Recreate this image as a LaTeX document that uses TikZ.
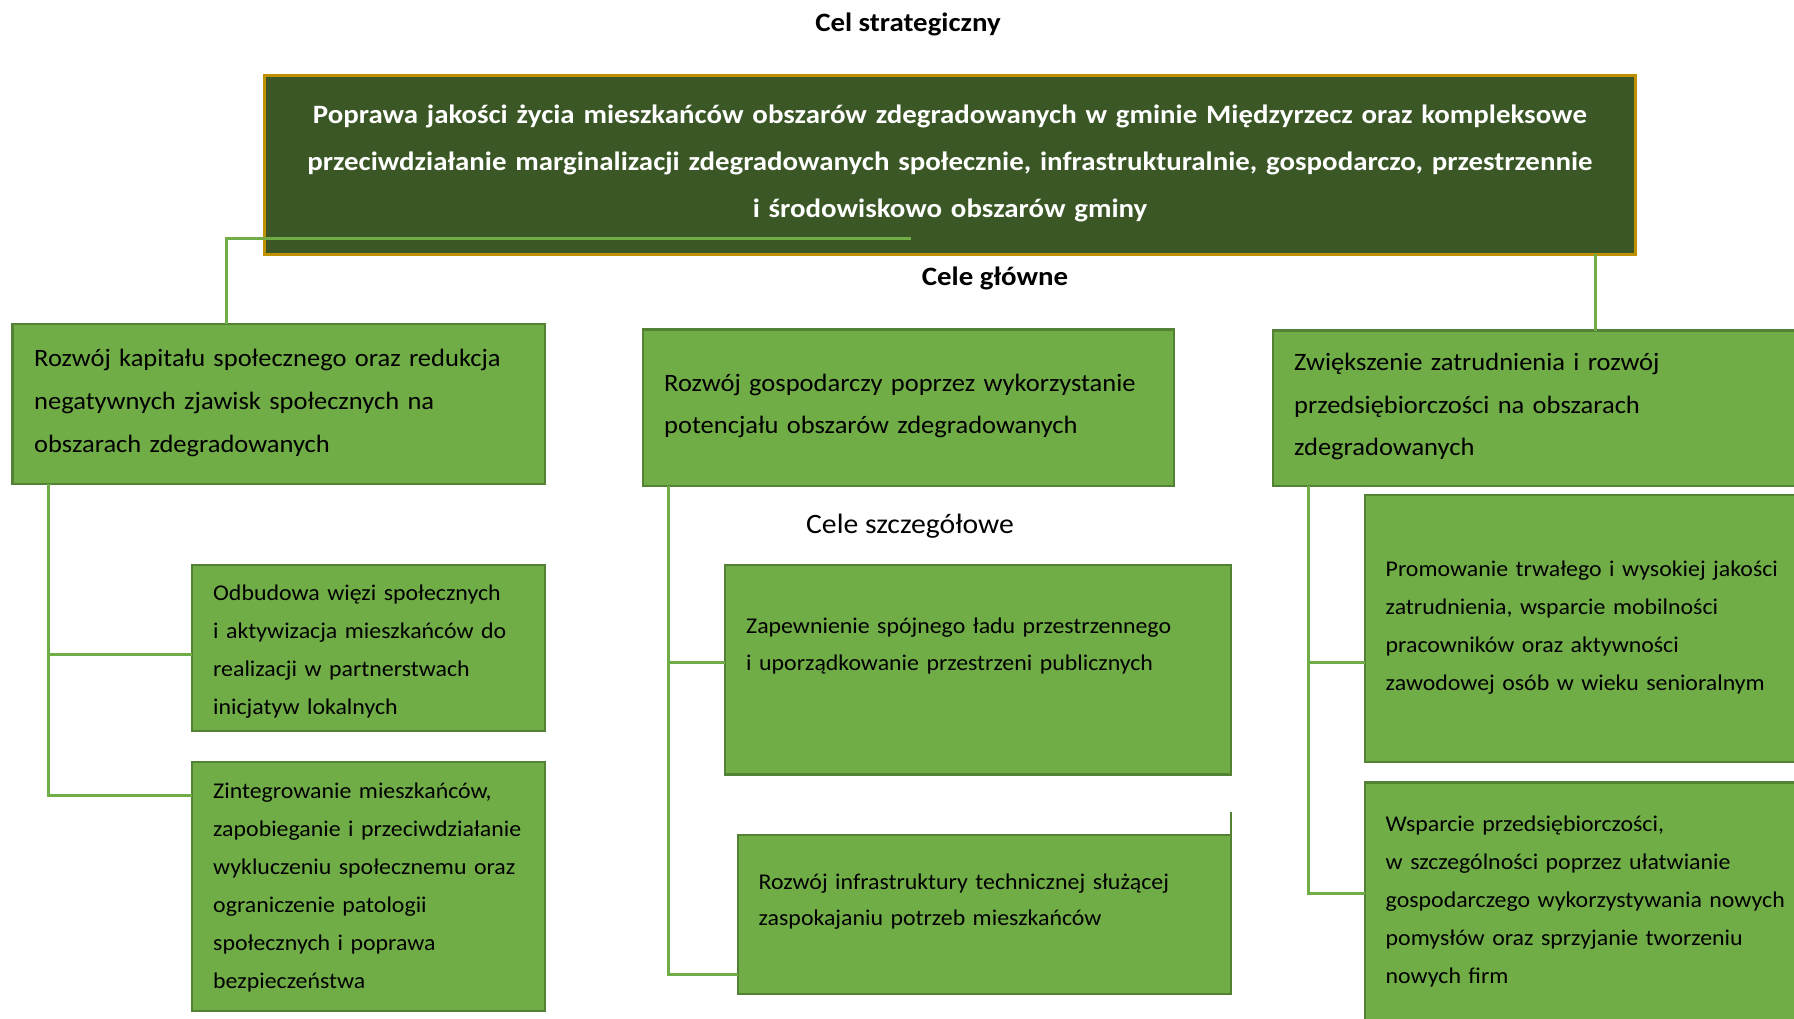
\documentclass[tikz,border=0pt]{standalone}
\usepackage{fontspec}
\setmainfont{Carlito}[FakeStretch=1.06]
\newfontfamily\hfont[FakeStretch=1.09]{Carlito}
\definecolor{lg}{HTML}{70AD47}
\definecolor{lgb}{HTML}{548235}
\definecolor{dg}{HTML}{3A5725}
\definecolor{goldb}{HTML}{BF9000}
\definecolor{connc}{HTML}{70AD47}
\begin{document}
\begin{tikzpicture}[x=1pt,y=-1pt,
  box/.style={draw=lgb, fill=lg, line width=2.5pt, inner sep=0pt, outer sep=0pt, anchor=north west},
  topbox/.style={draw=goldb, fill=dg, line width=3pt, inner sep=0pt, outer sep=0pt, anchor=north west},
  conn/.style={draw=connc, line width=3pt},
  ltxt/.style={anchor=base west, inner sep=0pt, align=left, text width=600pt},
  maintxt/.style={ltxt, font=\fontsize{25}{42.5}\selectfont},
  dettxt/.style={ltxt, font=\fontsize{22.5}{38}\selectfont},
  headtxt/.style={anchor=base, inner sep=0pt, font=\hfont\bfseries\fontsize{26.5}{30}\selectfont}
]
\useasboundingbox (0,0) rectangle (1794,1018);
\clip (0,0) rectangle (1794,1018);
\fill[white] (0,0) rectangle (1794,1018);

% titles
\node[headtxt] (hcel) at (908,31) {Cel strategiczny};
\node[headtxt] (hglowne) at (995,285) {Cele główne};
\node[anchor=base, inner sep=0pt, font=\fontsize{28}{30}\selectfont] (hszcz) at (910,533) {Cele szczegółowe};

% top box
\node[topbox, minimum width=1371pt, minimum height=178.5pt] (top) at (264,75.5) {};
\coordinate (tl) at (911,238);

% main boxes
\node[box, minimum width=532.4pt, minimum height=160pt] (L) at (12.6,324) {};
\node[box, minimum width=531pt, minimum height=156.5pt] (M) at (643,329.5) {};
\node[box, minimum width=627pt, minimum height=155.4pt] (R) at (1273,330.6) {};

% detail boxes
\node[box, minimum width=353pt, minimum height=166pt] (LD1) at (192,565) {};
\node[box, minimum width=353pt, minimum height=249pt] (LD2) at (192,762) {};
\node[box, minimum width=506pt, minimum height=209.5pt] (MD1) at (725,565) {};
\node[box, minimum width=493pt, minimum height=159pt] (MD2) at (738,835) {};
\node[box, minimum width=535pt, minimum height=267pt] (RD1) at (1365,495) {};
\node[box, minimum width=535pt, minimum height=318pt] (RD2) at (1365,782.5) {};

% connectors
\draw[conn] (tl) -| ([xshift=213.4pt]L.north west);
\draw[conn] ([xshift=-40pt]top.south east) -- ([xshift=322pt]R.north west);
\draw[conn] ([xshift=35.4pt]L.south west) |- ([yshift=-33pt]LD2.north west);
\draw[conn] ([xshift=35.4pt,yshift=-6pt]L.south west |- LD1.west) -- ([yshift=-6pt]LD1.west);
\draw[conn] ([xshift=25pt]M.south west) |- ([yshift=20pt]MD2.south west);
\draw[conn] ([xshift=25pt,yshift=7pt]M.south west |- MD1.west) -- ([yshift=7pt]MD1.west);
\draw[conn] ([xshift=35pt]R.south west) |- ([yshift=-111pt]RD2.north west);
\draw[conn] ([xshift=35pt,yshift=-167.5pt]R.south west |- RD1.north west) -- ([yshift=-167.5pt]RD1.north west);
\draw[draw=lgb, line width=2.5pt] (MD2.north east) -- ++(0,-23);

% texts
\node[anchor=base, inner sep=0pt, align=center, text width=1360pt, text=white,
      font=\hfont\bfseries\fontsize{26.5}{47}\selectfont] (ttop) at (950,123)
 {Poprawa jakości życia mieszkańców obszarów zdegradowanych w gminie Międzyrzecz oraz kompleksowe\\
  przeciwdziałanie marginalizacji zdegradowanych społecznie, infrastrukturalnie, gospodarczo, przestrzennie\\
  i środowiskowo obszarów gminy};

\node[maintxt, font=\fontsize{25}{43}\selectfont] (tL) at (34,366)
 {Rozwój kapitału społecznego oraz redukcja\\negatywnych zjawisk społecznych na\\obszarach zdegradowanych};
\node[maintxt] (tM) at (664,391)
 {Rozwój gospodarczy poprzez wykorzystanie\\potencjału obszarów zdegradowanych};
\node[maintxt] (tR) at (1294,370.5)
 {Zwiększenie zatrudnienia i rozwój\\przedsiębiorczości na obszarach\\zdegradowanych};

\node[dettxt] (tLD1) at (213,600)
 {Odbudowa więzi społecznych\\i aktywizacja mieszkańców do\\realizacji w partnerstwach\\inicjatyw lokalnych};
\node[dettxt] (tLD2) at (213,798)
 {Zintegrowanie mieszkańców,\\zapobieganie i przeciwdziałanie\\wykluczeniu społecznemu oraz\\ograniczenie patologii\\społecznych i poprawa\\bezpieczeństwa};
\node[dettxt, font=\fontsize{22.5}{37.5}\selectfont] (tMD1) at (746,633)
 {Zapewnienie spójnego ładu przestrzennego\\i uporządkowanie przestrzeni publicznych};
\node[dettxt, font=\fontsize{22.5}{36.6}\selectfont] (tMD2) at (758.5,889)
 {Rozwój infrastruktury technicznej służącej\\zaspokajaniu potrzeb mieszkańców};
\node[dettxt] (tRD1) at (1385.5,576)
 {Promowanie trwałego i wysokiej jakości\\zatrudnienia, wsparcie mobilności\\pracowników oraz aktywności\\zawodowej osób w wieku senioralnym};
\node[dettxt] (tRD2) at (1385.5,831)
 {Wsparcie przedsiębiorczości,\\w szczególności poprzez ułatwianie\\gospodarczego wykorzystywania nowych\\pomysłów oraz sprzyjanie tworzeniu\\nowych firm};
\end{tikzpicture}
\end{document}
